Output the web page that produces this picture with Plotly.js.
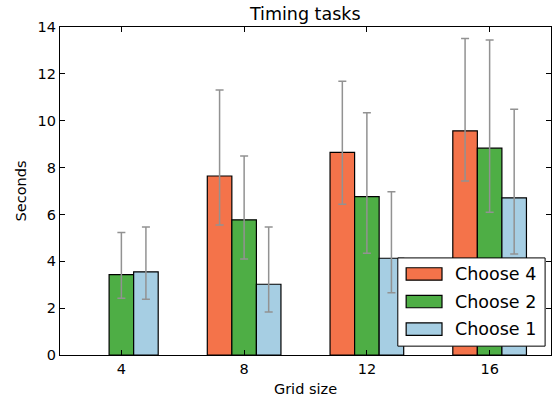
<!DOCTYPE html>
<html>
<head>
<meta charset="utf-8">
<script src="https://cdn.plot.ly/plotly-3.0.1.min.js"></script>
<style>html,body{margin:0;padding:0;background:#fff;}#chart{width:557px;height:401px;}</style>
</head>
<body>
<div id="chart"></div>
<script>
var gridSizes = [4, 8, 12, 16];
var seriesNames = ["Choose 4", "Choose 2", "Choose 1"];
var seriesColors = ["#F4734A", "#4EAE45", "#A6CEE3"];

var choose4 = [null, 7.64, 8.65, 9.57];
var choose4Hi = [null, 11.31, 11.68, 13.51];
var choose4Lo = [null, 5.55, 6.43, 7.43];

var choose2 = [3.43, 5.77, 6.76, 8.83];
var choose2Hi = [5.23, 8.49, 10.34, 13.44];
var choose2Lo = [2.42, 4.10, 4.34, 6.09];

var choose1 = [3.55, 3.02, 4.13, 6.71];
var choose1Hi = [5.46, 5.46, 6.97, 10.49];
var choose1Lo = [2.38, 1.84, 2.66, 4.31];

var values = [choose4, choose2, choose1];
var highs = [choose4Hi, choose2Hi, choose1Hi];
var lows = [choose4Lo, choose2Lo, choose1Lo];

var FONT = "DejaVu Sans, Liberation Sans, sans-serif";

var traces = values.map(function (vals, i) {
  return {
    type: "bar",
    name: seriesNames[i],
    x: gridSizes,
    y: vals,
    showlegend: false,
    marker: { color: seriesColors[i], line: { color: "#000", width: 1.2 } },
    error_y: {
      type: "data",
      symmetric: false,
      array: vals.map(function (v, j) { return v == null ? null : highs[i][j] - v; }),
      arrayminus: vals.map(function (v, j) { return v == null ? null : v - lows[i][j]; }),
      color: "#929292",
      thickness: 1.5,
      width: 4
    },
    hoverinfo: "x+y+name"
  };
});

// legend drawn as a matplotlib-style box
var shapes = [{
  type: "rect", xref: "paper", yref: "paper",
  x0: 0.688, x1: 0.988, y0: 0.027, y1: 0.296,
  fillcolor: "#fff", line: { color: "#000", width: 1 }, layer: "above"
}];
var annotations = [];
var rowY = [0.247, 0.163, 0.079];
seriesNames.forEach(function (n, i) {
  shapes.push({
    type: "rect", xref: "paper", yref: "paper",
    x0: 0.705, x1: 0.778, y0: rowY[i] - 0.019, y1: rowY[i] + 0.019,
    fillcolor: seriesColors[i], line: { color: "#000", width: 1.2 }, layer: "above"
  });
  annotations.push({
    xref: "paper", yref: "paper", x: 0.800, y: rowY[i],
    xanchor: "left", yanchor: "middle", showarrow: false,
    text: n, font: { family: FONT, size: 17.5, color: "#000" }
  });
});

var layout = {
  width: 557, height: 401,
  margin: { l: 60, r: 6, t: 27, b: 46, pad: 0 },
  paper_bgcolor: "#fff", plot_bgcolor: "#fff",
  font: { family: FONT, size: 14.5, color: "#000" },
  title: { text: "Timing tasks", font: { family: FONT, size: 17.5, color: "#000" }, x: 0.548, xanchor: "center", y: 0.965, yanchor: "middle" },
  barmode: "group",
  bargap: 0.4,
  bargroupgap: 0,
  showlegend: false,
  xaxis: {
    range: [2, 18],
    tickvals: gridSizes,
    ticktext: gridSizes.map(String),
    ticks: "inside", ticklen: 5, tickcolor: "#000", tickwidth: 1,
    showline: true, linecolor: "#000", linewidth: 1.2, mirror: "allticks",
    showgrid: false, zeroline: false,
    tickfont: { family: FONT, size: 14.5 },
    title: { text: "Grid size", font: { family: FONT, size: 14.5 }, standoff: 8 }
  },
  yaxis: {
    range: [0, 14],
    dtick: 2, tick0: 0,
    ticks: "inside", ticklen: 5, tickcolor: "#000", tickwidth: 1,
    showline: true, linecolor: "#000", linewidth: 1.2, mirror: "allticks",
    showgrid: false, zeroline: false,
    tickfont: { family: FONT, size: 14.5 },
    title: { text: "Seconds", font: { family: FONT, size: 14.5 }, standoff: 7 }
  },
  shapes: shapes,
  annotations: annotations
};

Plotly.newPlot("chart", traces, layout, { displayModeBar: false, staticPlot: true });
</script>
</body>
</html>
